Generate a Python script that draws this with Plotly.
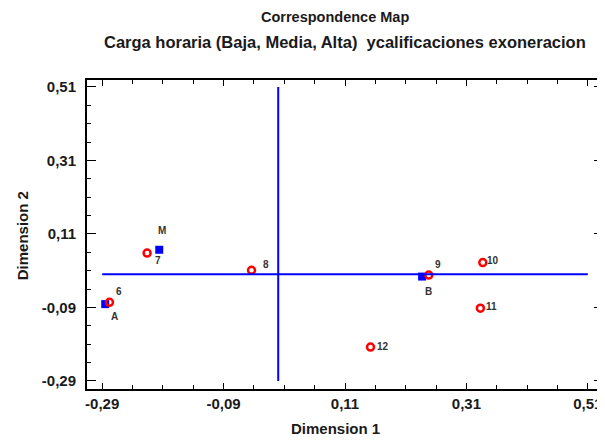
import plotly.graph_objects as go

# row points (calificaciones) - red open circles
row_labels = ['6', '7', '8', '9', '10', '11', '12']
row_x = [-0.278, -0.216, -0.044, 0.248, 0.337, 0.333, 0.152]
row_y = [-0.076, 0.058, 0.011, -0.002, 0.032, -0.092, -0.198]

# column points (carga horaria) - blue squares
col_labels = ['A', 'M', 'B']
col_x = [-0.285, -0.196, 0.237]
col_y = [-0.081, 0.067, -0.006]

tick_vals = [-0.29, -0.09, 0.11, 0.31, 0.51]
tick_text = ['-0,29', '-0,09', '0,11', '0,31', '0,51']

# label offsets in pixels (dx, dy with y going down)
LABEL_SHIFT = {
    '6': (10, -11), '7': (11, 7), '8': (14, -6), '9': (9, -11),
    '10': (10, -2), '11': (11, -2), '12': (12, -1),
    'A': (9, 12), 'M': (3, -19), 'B': (6, 15),
}

FONT = 'Liberation Sans, Arial, sans-serif'
TXT = '#1a1a1a'

# page body adds an 8px margin, so the figure is sized to fill the rest
OFF = 8
FIG_W, FIG_H = 605 - OFF, 440 - OFF
L, T, W, H = 87 - OFF, 80 - OFF, 518, 309

fig = go.Figure()

fig.add_trace(go.Scatter(
    x=col_x, y=col_y, mode='markers',
    marker=dict(symbol='square', size=8, color='#0000ff'),
    showlegend=False, hoverinfo='skip',
))
fig.add_trace(go.Scatter(
    x=row_x, y=row_y, mode='markers',
    marker=dict(symbol='circle-open', size=7, color='#ff0000',
                line=dict(width=2.5, color='#ff0000')),
    showlegend=False, hoverinfo='skip',
))

# crosshair at origin
fig.add_shape(type='line', x0=0, x1=0, y0=tick_vals[0], y1=tick_vals[-1],
              xref='x', yref='y', line=dict(color='#0000ff', width=2))
fig.add_shape(type='line', x0=tick_vals[0], x1=tick_vals[-1], y0=0, y1=0,
              xref='x', yref='y', line=dict(color='#0000ff', width=2))

annotations = []
for lab, xx, yy in list(zip(row_labels, row_x, row_y)) + list(zip(col_labels, col_x, col_y)):
    dx, dy = LABEL_SHIFT[lab]
    annotations.append(dict(
        x=xx, y=yy, xref='x', yref='y', text=f'<b>{lab}</b>', showarrow=False,
        xanchor='center', yanchor='middle',
        xshift=dx, yshift=-dy, font=dict(family=FONT, size=10, color='#333333'),
    ))


# positions measured on the 605x440 screenshot -> paper coords
def px(x):
    return (x - OFF - L) / W


def py(y):
    return (T + H - (y - OFF)) / H


def label(x, y, text, size, angle=0):
    return dict(x=px(x), y=py(y), xref='paper', yref='paper', showarrow=False,
                xanchor='center', yanchor='middle', textangle=angle,
                text=f'<b>{text}</b>', font=dict(family=FONT, size=size, color=TXT))


annotations += [
    label(336, 17, 'Correspondence Map', 14.5),
    label(346, 42, 'Carga horaria (Baja, Media, Alta)  ycalificaciones exoneracion', 16.5),
    label(336, 428, 'Dimension 1', 15),
    label(22, 236, 'Dimension 2', 15, -90),
]

axis_common = dict(
    tickmode='array', tickvals=tick_vals, ticktext=tick_text,
    ticks='inside', tickcolor='black', tickwidth=1,
    showline=True, linecolor='black', linewidth=2, mirror='allticks',
    showgrid=False, zeroline=False,
    tickfont=dict(family=FONT, size=15, color=TXT, weight='bold'),
    minor=dict(ticks='inside', tick0=-0.29, dtick=0.05, ticklen=4,
               tickcolor='black', showgrid=False),
)

fig.update_layout(
    width=FIG_W, height=FIG_H,
    margin=dict(l=L, r=FIG_W - L - W, t=T, b=FIG_H - T - H),
    plot_bgcolor='white', paper_bgcolor='white',
    xaxis=dict(range=[-0.315, 0.535], ticklen=6, **axis_common),
    yaxis=dict(range=[-0.312, 0.529], ticklen=9, ticklabelstandoff=6, **axis_common),
    annotations=annotations,
)

fig.write_html("out.html")
